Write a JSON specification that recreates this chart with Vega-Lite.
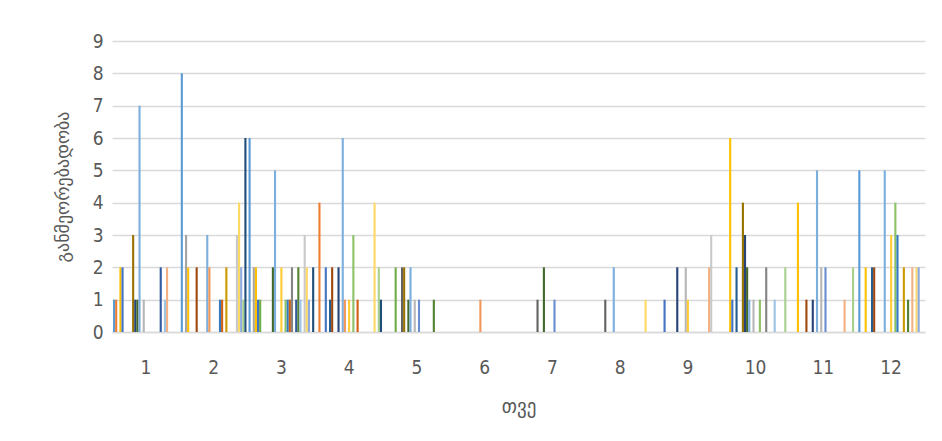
{
  "$schema": "https://vega.github.io/schema/vega-lite/v6.json",
  "width": 813,
  "height": 291,
  "autosize": {"type": "none"},
  "padding": {"left": 112, "top": 41, "right": 17, "bottom": 109},
  "background": "white",
  "config": {
    "view": {"stroke": null},
    "font": "Liberation Sans Narrow, DejaVu Sans Condensed, sans-serif"
  },
  "data": {
    "values": [
      {"month": 1, "day": 1, "value": 1}, {"month": 1, "day": 2, "value": 1}, {"month": 1, "day": 4, "value": 2}, {"month": 1, "day": 5, "value": 2},
      {"month": 1, "day": 10, "value": 3}, {"month": 1, "day": 11, "value": 1}, {"month": 1, "day": 12, "value": 1}, {"month": 1, "day": 13, "value": 7},
      {"month": 1, "day": 15, "value": 1}, {"month": 1, "day": 23, "value": 2}, {"month": 1, "day": 25, "value": 1}, {"month": 1, "day": 26, "value": 2},
      {"month": 2, "day": 1, "value": 8}, {"month": 2, "day": 3, "value": 3}, {"month": 2, "day": 4, "value": 2}, {"month": 2, "day": 8, "value": 2},
      {"month": 2, "day": 13, "value": 3}, {"month": 2, "day": 14, "value": 2}, {"month": 2, "day": 19, "value": 1}, {"month": 2, "day": 20, "value": 1},
      {"month": 2, "day": 22, "value": 2}, {"month": 2, "day": 27, "value": 3}, {"month": 2, "day": 28, "value": 4}, {"month": 2, "day": 29, "value": 2},
      {"month": 2, "day": 30, "value": 1}, {"month": 2, "day": 31, "value": 6},
      {"month": 3, "day": 1, "value": 6}, {"month": 3, "day": 3, "value": 2}, {"month": 3, "day": 4, "value": 2}, {"month": 3, "day": 5, "value": 1},
      {"month": 3, "day": 6, "value": 1}, {"month": 3, "day": 12, "value": 2}, {"month": 3, "day": 13, "value": 5}, {"month": 3, "day": 16, "value": 2},
      {"month": 3, "day": 18, "value": 1}, {"month": 3, "day": 19, "value": 1}, {"month": 3, "day": 20, "value": 1}, {"month": 3, "day": 21, "value": 2},
      {"month": 3, "day": 23, "value": 1}, {"month": 3, "day": 24, "value": 2}, {"month": 3, "day": 25, "value": 1}, {"month": 3, "day": 27, "value": 3},
      {"month": 3, "day": 28, "value": 2}, {"month": 3, "day": 29, "value": 1}, {"month": 3, "day": 31, "value": 2},
      {"month": 4, "day": 2, "value": 4}, {"month": 4, "day": 5, "value": 2}, {"month": 4, "day": 7, "value": 1}, {"month": 4, "day": 8, "value": 2},
      {"month": 4, "day": 11, "value": 2}, {"month": 4, "day": 13, "value": 6}, {"month": 4, "day": 14, "value": 1}, {"month": 4, "day": 16, "value": 1},
      {"month": 4, "day": 18, "value": 3}, {"month": 4, "day": 20, "value": 1}, {"month": 4, "day": 28, "value": 4}, {"month": 4, "day": 30, "value": 2},
      {"month": 4, "day": 31, "value": 1},
      {"month": 5, "day": 6, "value": 2}, {"month": 5, "day": 9, "value": 2}, {"month": 5, "day": 10, "value": 2}, {"month": 5, "day": 12, "value": 1},
      {"month": 5, "day": 13, "value": 2}, {"month": 5, "day": 15, "value": 1}, {"month": 5, "day": 17, "value": 1}, {"month": 5, "day": 24, "value": 1},
      {"month": 6, "day": 14, "value": 1},
      {"month": 7, "day": 9, "value": 1}, {"month": 7, "day": 12, "value": 2}, {"month": 7, "day": 17, "value": 1},
      {"month": 8, "day": 9, "value": 1}, {"month": 8, "day": 13, "value": 2}, {"month": 8, "day": 28, "value": 1},
      {"month": 9, "day": 5, "value": 1}, {"month": 9, "day": 11, "value": 2}, {"month": 9, "day": 15, "value": 2}, {"month": 9, "day": 16, "value": 1},
      {"month": 9, "day": 26, "value": 2}, {"month": 9, "day": 27, "value": 3},
      {"month": 10, "day": 4, "value": 6}, {"month": 10, "day": 5, "value": 1}, {"month": 10, "day": 7, "value": 2}, {"month": 10, "day": 10, "value": 4},
      {"month": 10, "day": 11, "value": 3}, {"month": 10, "day": 12, "value": 2}, {"month": 10, "day": 13, "value": 1}, {"month": 10, "day": 15, "value": 1},
      {"month": 10, "day": 18, "value": 1}, {"month": 10, "day": 21, "value": 2}, {"month": 10, "day": 25, "value": 1}, {"month": 10, "day": 30, "value": 2},
      {"month": 11, "day": 4, "value": 4}, {"month": 11, "day": 8, "value": 1}, {"month": 11, "day": 11, "value": 1}, {"month": 11, "day": 13, "value": 5},
      {"month": 11, "day": 15, "value": 2}, {"month": 11, "day": 17, "value": 2}, {"month": 11, "day": 26, "value": 1}, {"month": 11, "day": 30, "value": 2},
      {"month": 12, "day": 1, "value": 5}, {"month": 12, "day": 4, "value": 2}, {"month": 12, "day": 7, "value": 2}, {"month": 12, "day": 8, "value": 2},
      {"month": 12, "day": 13, "value": 5}, {"month": 12, "day": 16, "value": 3}, {"month": 12, "day": 18, "value": 4}, {"month": 12, "day": 19, "value": 3},
      {"month": 12, "day": 22, "value": 2}, {"month": 12, "day": 24, "value": 1}, {"month": 12, "day": 26, "value": 2}, {"month": 12, "day": 28, "value": 2},
      {"month": 12, "day": 29, "value": 2}
    ]
  },
  "mark": {"type": "bar"},
  "encoding": {
    "x": {
      "field": "month",
      "type": "ordinal",
      "scale": {"domain": [1,2,3,4,5,6,7,8,9,10,11,12], "paddingInner": 0.03, "paddingOuter": 0.015},
      "axis": {
        "title": "თვე",
        "titleFont": "DejaVu Sans",
        "titleFontSize": 19,
        "titleFontWeight": "normal",
        "titleColor": "#595959",
        "titlePadding": 20,
        "labelAngle": 0,
        "labelFontSize": 19,
        "labelColor": "#595959",
        "labelPadding": 26,
        "ticks": false,
        "domainColor": "#D9D9D9",
        "domainWidth": 1.5,
        "grid": false
      }
    },
    "xOffset": {
      "field": "day",
      "type": "ordinal",
      "scale": {"domain": [1,2,3,4,5,6,7,8,9,10,11,12,13,14,15,16,17,18,19,20,21,22,23,24,25,26,27,28,29,30,31], "paddingInner": 0, "paddingOuter": 0}
    },
    "y": {
      "field": "value",
      "type": "quantitative",
      "scale": {"domain": [0, 9]},
      "axis": {
        "title": "განმეორებადობა",
        "titleFont": "DejaVu Sans",
        "titleFontSize": 18,
        "titleFontWeight": "normal",
        "titleColor": "#595959",
        "titlePadding": 20,
        "values": [0,1,2,3,4,5,6,7,8,9],
        "labelFontSize": 19,
        "labelColor": "#595959",
        "labelPadding": 9,
        "ticks": false,
        "domain": false,
        "gridColor": "#D9D9D9",
        "gridWidth": 1.5
      }
    },
    "color": {
      "field": "day",
      "type": "ordinal",
      "legend": null,
      "scale": {
        "domain": [1,2,3,4,5,6,7,8,9,10,11,12,13,14,15,16,17,18,19,20,21,22,23,24,25,26,27,28,29,30,31],
        "range": ["#5B9BD5","#ED7D31","#A5A5A5","#FFC000","#4472C4","#70AD47","#255E91","#9E480E","#636363","#997300","#264478","#43682B","#7CAFDD","#F1975A","#B7B7B7","#FFCD33","#698ED0","#8CC168","#327DC2","#D26012","#848484","#CC9A00","#335AA1","#548235","#9DC3E6","#F4B183","#C9C9C9","#FFD966","#8FAADC","#A9D18E","#1F4E79"]
      }
    }
  }
}
